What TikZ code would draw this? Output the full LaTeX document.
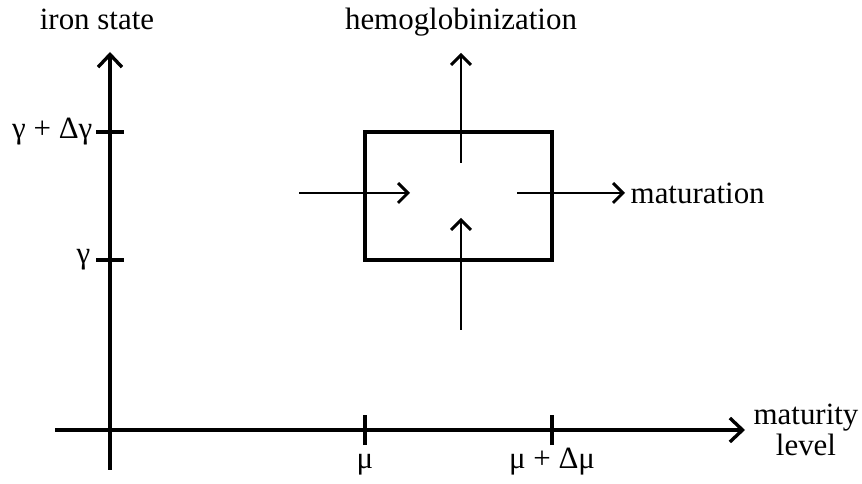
\documentclass[tikz,border=0pt]{standalone}
\usepackage{fontspec}
\setmainfont{Liberation Serif}
\usepackage{tikz}
\usetikzlibrary{arrows, positioning, calc, arrows.meta}

\begin{document}
\begin{tikzpicture}[font=\fontsize{22}{25}\selectfont]
        \useasboundingbox (0,0) rectangle (21.55,12.1);

        % axes
        \coordinate (o) at (2.75,1.35);
        \coordinate (ybot) at (2.75,0.35);
        \coordinate (ytop) at (2.75,10.8);
        \coordinate (xleft) at (1.375,1.35);
        \coordinate (xright) at (18.625,1.35);

        \draw[line width=2.8pt, -{Straight Barb[length=9pt,width=17pt,line width=2.4pt]}] (ybot) -- (ytop);
        \draw[line width=2.8pt, -{Straight Barb[length=9pt,width=17pt,line width=2.4pt]}] (xleft) -- (xright);

        % ticks
        \coordinate (g1) at (2.75,5.6);
        \coordinate (g2) at (2.75,8.8);
        \coordinate (m1) at (9.125,1.35);
        \coordinate (m2) at (13.8,1.35);
        \foreach \t in {g1, g2}
            \draw[line width=2.4pt] ($(\t)+(-0.35,0)$) -- ($(\t)+(0.35,0)$);
        \foreach \t in {m1, m2}
            \draw[line width=2.2pt] ($(\t)+(0,-0.38)$) -- ($(\t)+(0,0.38)$);

        % tick labels
        \node[left=0.4cm of g2, inner sep=1pt] (g2lab) {γ + Δγ};
        \node[left=0.45cm of g1, inner sep=1pt] (g1lab) {γ};
        \node[anchor=base, inner sep=0pt] (m1lab) at (9.125,0.38) {μ};
        \node[anchor=base, inner sep=0pt] (m2lab) at (13.8,0.38) {μ + Δμ};

        % axis labels
        \node[anchor=base] (ylab) at (2.425,11.35) {iron state};
        \node[align=center] (xlab) at (20.15,1.35) {maturity\\[-3pt]level};

        % box
        \coordinate (bl) at (9.125,5.6);
        \coordinate (tr) at (13.8,8.8);
        \draw[line width=2.6pt] (bl) rectangle (tr);

        % flux arrows
        \coordinate (top1) at (11.525,8.025);
        \coordinate (top2) at (11.525,10.775);
        \coordinate (bot1) at (11.525,3.85);
        \coordinate (bot2) at (11.525,6.65);
        \coordinate (lft1) at (7.475,7.275);
        \coordinate (lft2) at (10.25,7.275);
        \coordinate (rgt1) at (12.925,7.275);
        \coordinate (rgt2) at (15.625,7.275);

        \foreach \a/\b in {top1/top2, bot1/bot2, lft1/lft2, rgt1/rgt2}
            \draw[line width=2.1pt, -{Straight Barb[length=7pt,width=14pt,line width=2.1pt]}] (\a) -- (\b);

        \node[anchor=base] (hemo) at (11.525,11.35) {hemoglobinization};
        \node[right=0.1cm of rgt2, inner sep=1pt] (matur) {maturation};

\end{tikzpicture}
\end{document}
